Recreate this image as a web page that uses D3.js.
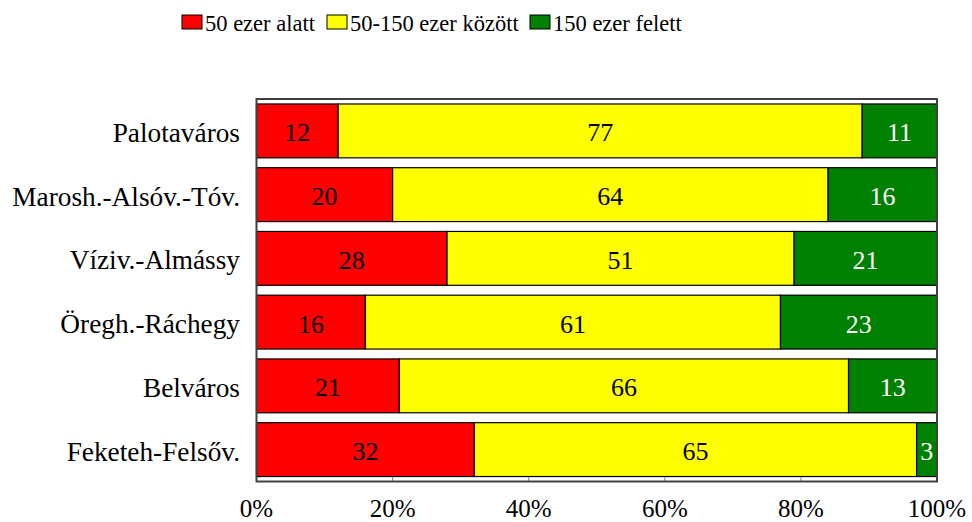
<!DOCTYPE html>
<html>
<head>
<meta charset="utf-8">
<script src="https://cdn.jsdelivr.net/npm/d3@7"></script>
<style>
  body { margin: 0; background: #fff; }
</style>
</head>
<body>
<div id="chart"></div>
<script>
var districts = ["Palotaváros", "Marosh.-Alsóv.-Tóv.", "Víziv.-Almássy", "Öregh.-Ráchegy", "Belváros", "Feketeh-Felsőv."];
var seriesNames = ["50 ezer alatt", "50-150 ezer között", "150 ezer felett"];
var below50 = [12, 20, 28, 16, 21, 32];
var between = [77, 64, 51, 61, 66, 65];
var above150 = [11, 16, 21, 23, 13, 3];
var xTicks = [0, 20, 40, 60, 80, 100];

var colors = ["#ff0000", "#ffff00", "#008000"];
var labelColors = ["#000", "#000", "#fff"];
var font = "'Liberation Serif', 'DejaVu Serif', serif";

var svgWidth = 972, svgHeight = 522;
var margin = { top: 99, right: 35, bottom: 40.5, left: 256.5 };
var width = svgWidth - margin.left - margin.right;
var height = svgHeight - margin.top - margin.bottom;

var svg = d3.select("#chart").append("svg")
    .attr("width", svgWidth)
    .attr("height", svgHeight)
    .attr("font-family", font);

var g = svg.append("g")
    .attr("transform", `translate(${margin.left}, ${margin.top})`);

var data = districts.map(function(d, i) {
    return { name: d, below50: below50[i], between: between[i], above150: above150[i] };
});
var keys = ["below50", "between", "above150"];
var stacked = d3.stack().keys(keys)(data);

var x = d3.scaleLinear().domain([0, 100]).range([0, width]);
var y = d3.scaleBand().domain(districts).range([0, height])
    .paddingInner(0.155).paddingOuter(0.078);

// bottom axis ticks (inside) + labels
g.selectAll(".tick-mark").data(xTicks).enter().append("line")
    .attr("x1", d => x(d)).attr("x2", d => x(d))
    .attr("y1", height).attr("y2", height - 5)
    .attr("stroke", "#808080");
g.selectAll(".xlab").data(xTicks).enter().append("text")
    .attr("x", d => x(d))
    .attr("y", height + 35.5)
    .attr("text-anchor", "middle")
    .style("font-family", font)
    .style("font-size", "25px")
    .text(d => d + "%");

// bars
stacked.forEach(function(layer, li) {
    g.selectAll(".bar" + li).data(layer).enter().append("rect")
        .attr("x", d => x(d[0]))
        .attr("y", d => y(d.data.name))
        .attr("width", d => x(d[1]) - x(d[0]))
        .attr("height", y.bandwidth())
        .attr("fill", colors[li])
        .attr("stroke", "#000")
        .attr("stroke-width", 1.2);
    g.selectAll(".val" + li).data(layer).enter().append("text")
        .attr("x", d => (x(d[0]) + x(d[1])) / 2)
        .attr("y", d => y(d.data.name) + y.bandwidth() / 2)
        .attr("dy", "0.4em")
        .attr("text-anchor", "middle")
        .style("font-family", font)
        .style("font-size", "26px")
        .style("fill", labelColors[li])
        .text(d => d[1] - d[0]);
});

// plot frame
g.append("rect")
    .attr("width", width).attr("height", height)
    .attr("fill", "none")
    .attr("stroke", "#404040")
    .attr("stroke-width", 2);

// category labels
g.selectAll(".cat").data(districts).enter().append("text")
    .attr("x", -16.5)
    .attr("y", d => y(d) + y.bandwidth() / 2)
    .attr("dy", "0.4em")
    .attr("text-anchor", "end")
    .style("font-family", font)
    .style("font-size", "27.3px")
    .text(d => d);

// legend
var legendX = [182, 327, 530];
var legend = svg.append("g");
seriesNames.forEach(function(name, i) {
    legend.append("rect")
        .attr("x", legendX[i]).attr("y", 15)
        .attr("width", 20).attr("height", 14)
        .attr("fill", colors[i])
        .attr("stroke", "#000");
    legend.append("text")
        .attr("x", legendX[i] + 23)
        .attr("y", 31)
        .style("font-family", font)
        .style("font-size", "22.5px")
        .text(name);
});
</script>
</body>
</html>
